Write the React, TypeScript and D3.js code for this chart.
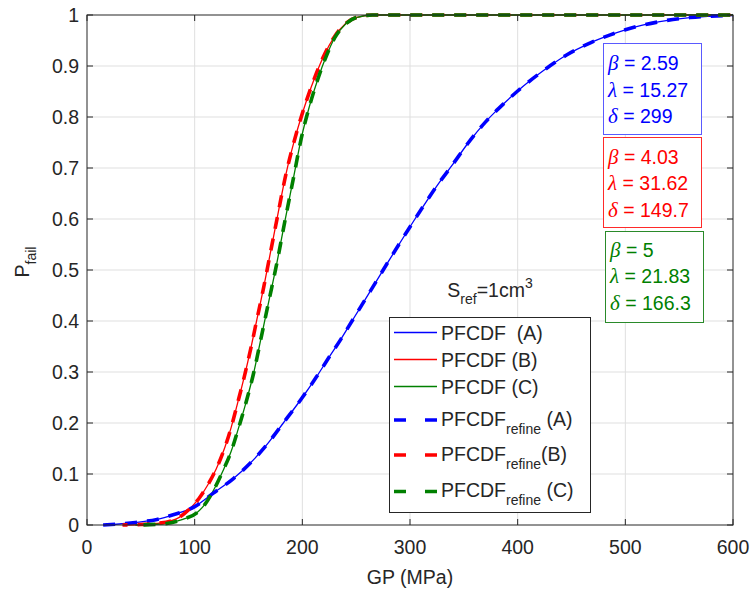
import React, { useEffect, useRef } from 'react';
import * as d3 from 'd3';

// GP (MPa) vs probability of failure
const xA = [15, 30, 45, 65, 80, 100, 117, 136, 151, 168, 182, 200, 213, 223, 236, 247, 263, 280, 298, 312, 326, 339, 354, 370, 387, 400, 424, 445, 467, 486, 500, 532, 560, 600];
const yA = [0, 0.002, 0.005, 0.011, 0.02, 0.036, 0.062, 0.091, 0.12, 0.16, 0.199, 0.25, 0.29, 0.323, 0.365, 0.403, 0.458, 0.517, 0.578, 0.624, 0.668, 0.705, 0.749, 0.79, 0.826, 0.851, 0.891, 0.921, 0.945, 0.961, 0.971, 0.987, 0.995, 0.999];

const xB = [33, 50, 65, 83, 96, 104, 112, 120, 128, 134, 140, 146, 152, 158, 164, 170, 176, 185, 193, 204, 212, 220, 230, 240, 250, 265, 300, 400, 500, 600];
const yB = [0, 0.001, 0.003, 0.012, 0.033, 0.052, 0.078, 0.11, 0.152, 0.192, 0.24, 0.29, 0.345, 0.405, 0.465, 0.53, 0.595, 0.69, 0.757, 0.833, 0.88, 0.92, 0.958, 0.983, 0.995, 1, 1, 1, 1, 1];

const xC = [45, 70, 89, 102, 110, 118, 126, 134, 140, 147, 155, 162, 169, 176, 184, 192, 199, 207, 215, 222, 230, 240, 250, 265, 300, 400, 500, 600];
const yC = [0, 0.002, 0.011, 0.024, 0.042, 0.07, 0.105, 0.145, 0.185, 0.235, 0.3, 0.37, 0.44, 0.51, 0.598, 0.683, 0.758, 0.824, 0.878, 0.918, 0.955, 0.982, 0.995, 1, 1, 1, 1, 1];

const xTicks = [0, 100, 200, 300, 400, 500, 600];
const yTicks = [0, 0.1, 0.2, 0.3, 0.4, 0.5, 0.6, 0.7, 0.8, 0.9, 1];

const seriesColors = ['#0000ff', '#ff0000', '#008000'];
const betaVals = ['2.59', '4.03', '5'];
const lambdaVals = ['15.27', '31.62', '21.83'];
const deltaVals = ['299', '149.7', '166.3'];

const W = 751;
const H = 590;
const FONT = '"Liberation Sans", Arial, sans-serif';
const SERIF = '"Liberation Serif", "Times New Roman", serif';

const App = () => {
  const svgRef = useRef<SVGSVGElement>(null);

  useEffect(() => {
    const margin = { top: 15, right: 18, bottom: 65, left: 87 };
    const width = W - margin.left - margin.right;
    const height = H - margin.top - margin.bottom;

    const root = d3.select(svgRef.current);
    root.selectAll('*').remove();
    root.attr('width', W).attr('height', H);
    root.append('rect').attr('width', W).attr('height', H).attr('fill', '#fff');

    const svg = root.append('g').attr('transform', `translate(${margin.left},${margin.top})`);

    const x = d3.scaleLinear().domain([0, 600]).range([0, width]);
    const y = d3.scaleLinear().domain([0, 1]).range([height, 0]);

    // grid
    svg.append('g').selectAll('line')
      .data(xTicks.slice(1, -1))
      .enter().append('line')
      .attr('x1', d => x(d)).attr('x2', d => x(d))
      .attr('y1', 0).attr('y2', height)
      .attr('stroke', '#dfdfdf').attr('stroke-width', 1);
    svg.append('g').selectAll('line')
      .data(yTicks.slice(1, -1))
      .enter().append('line')
      .attr('x1', 0).attr('x2', width)
      .attr('y1', d => y(d)).attr('y2', d => y(d))
      .attr('stroke', '#dfdfdf').attr('stroke-width', 1);

    // curves
    const series = [
      { xs: xA, ys: yA },
      { xs: xB, ys: yB },
      { xs: xC, ys: yC },
    ];
    const line = d3.line<[number, number]>()
      .x(d => x(d[0]))
      .y(d => y(d[1]))
      .curve(d3.curveMonotoneX);

    series.forEach((s, i) => {
      svg.append('path')
        .datum(s.xs.map((v, k) => [v, s.ys[k]] as [number, number]))
        .attr('d', line)
        .attr('fill', 'none')
        .attr('stroke', seriesColors[i])
        .attr('stroke-width', 1.3);
    });
    // refined curves coincide with the PFCDF curves
    series.forEach((s, i) => {
      svg.append('path')
        .datum(s.xs.map((v, k) => [v, s.ys[k]] as [number, number]))
        .attr('d', line)
        .attr('fill', 'none')
        .attr('stroke', seriesColors[i])
        .attr('stroke-width', 3.6)
        .attr('stroke-dasharray', '12 10')
        .attr('stroke-dashoffset', i * 7);
    });

    // axes box + ticks
    const axisColor = '#262626';
    svg.append('rect')
      .attr('width', width).attr('height', height)
      .attr('fill', 'none').attr('stroke', axisColor).attr('stroke-width', 1);
    const tl = 6;
    xTicks.forEach(t => {
      svg.append('line').attr('x1', x(t)).attr('x2', x(t)).attr('y1', height).attr('y2', height - tl).attr('stroke', axisColor);
      svg.append('line').attr('x1', x(t)).attr('x2', x(t)).attr('y1', 0).attr('y2', tl).attr('stroke', axisColor);
      svg.append('text')
        .attr('x', x(t)).attr('y', height + 29)
        .attr('text-anchor', 'middle')
        .attr('font-family', FONT).attr('font-size', 19.5)
        .attr('fill', axisColor)
        .text(t);
    });
    yTicks.forEach(t => {
      svg.append('line').attr('x1', 0).attr('x2', tl).attr('y1', y(t)).attr('y2', y(t)).attr('stroke', axisColor);
      svg.append('line').attr('x1', width).attr('x2', width - tl).attr('y1', y(t)).attr('y2', y(t)).attr('stroke', axisColor);
      svg.append('text')
        .attr('x', -8).attr('y', y(t) + 7)
        .attr('text-anchor', 'end')
        .attr('font-family', FONT).attr('font-size', 19.5)
        .attr('fill', axisColor)
        .text(String(t));
    });

    // axis labels
    root.append('text')
      .attr('x', margin.left + width / 2).attr('y', 584)
      .attr('text-anchor', 'middle')
      .attr('font-family', FONT).attr('font-size', 19.5)
      .attr('fill', axisColor)
      .text('GP (MPa)');
    const yl = root.append('text')
      .attr('transform', 'translate(29,262) rotate(-90)')
      .attr('text-anchor', 'middle')
      .attr('font-family', FONT).attr('font-size', 19.5)
      .attr('fill', axisColor);
    yl.append('tspan').text('P');
    yl.append('tspan').attr('dy', 7).attr('font-size', 14).text('fail');

    // S_ref annotation
    const sref = root.append('text')
      .attr('x', 490).attr('y', 297)
      .attr('text-anchor', 'middle')
      .attr('font-family', FONT).attr('font-size', 19.5)
      .attr('fill', axisColor);
    sref.append('tspan').text('S');
    sref.append('tspan').attr('dy', 7).attr('font-size', 14).text('ref');
    sref.append('tspan').attr('dy', -7).text('=1cm');
    sref.append('tspan').attr('dy', -9).attr('font-size', 14).text('3');

    // parameter boxes
    const boxes = [
      { x0: 603, y0: 43, x1: 701, y1: 134, tx: 608, by: 70, stroke: '#5a5aff' },
      { x0: 603, y0: 137, x1: 701, y1: 227, tx: 608, by: 163.5, stroke: '#ff2a2a' },
      { x0: 605, y0: 231, x1: 703, y1: 322, tx: 610, by: 256.5, stroke: '#2a8a2a' },
    ];
    boxes.forEach((b, i) => {
      root.append('rect')
        .attr('x', b.x0 + 0.5).attr('y', b.y0 + 0.5)
        .attr('width', b.x1 - b.x0).attr('height', b.y1 - b.y0)
        .attr('fill', '#fff').attr('stroke', b.stroke).attr('stroke-width', 1);
      const rows = [['\u03b2', betaVals[i]], ['\u03bb', lambdaVals[i]], ['\u03b4', deltaVals[i]]];
      rows.forEach((r, k) => {
        const t = root.append('text')
          .attr('x', b.tx).attr('y', b.by + k * 26.6)
          .attr('font-family', FONT).attr('font-size', 19.5)
          .attr('fill', seriesColors[i]);
        t.append('tspan').attr('font-family', SERIF).attr('font-style', 'italic').attr('font-size', 21).text(r[0]);
        t.append('tspan').text(` = ${r[1]}`);
      });
    });

    // legend
    const lg = root.append('g');
    lg.append('rect')
      .attr('x', 389.5).attr('y', 317.5)
      .attr('width', 201).attr('height', 195)
      .attr('fill', '#fff').attr('stroke', axisColor).attr('stroke-width', 1);
    const legendRows = [
      { ly: 332.5, ty: 340, label: 'PFCDF ', sub: '', tail: ' (A)', dashed: false, c: 0 },
      { ly: 359.5, ty: 367, label: 'PFCDF', sub: '', tail: ' (B)', dashed: false, c: 1 },
      { ly: 386.5, ty: 394, label: 'PFCDF', sub: '', tail: ' (C)', dashed: false, c: 2 },
      { ly: 420, ty: 426, label: 'PFCDF', sub: 'refine', tail: ' (A)', dashed: true, c: 0 },
      { ly: 455, ty: 461, label: 'PFCDF', sub: 'refine', tail: '(B)', dashed: true, c: 1 },
      { ly: 491.5, ty: 497, label: 'PFCDF', sub: 'refine', tail: ' (C)', dashed: true, c: 2 },
    ];
    legendRows.forEach(r => {
      lg.append('line')
        .attr('x1', 394).attr('x2', 437)
        .attr('y1', r.ly).attr('y2', r.ly)
        .attr('stroke', seriesColors[r.c])
        .attr('stroke-width', r.dashed ? 3.6 : 1.3)
        .attr('stroke-dasharray', r.dashed ? '12 19' : null);
      const t = lg.append('text')
        .attr('x', 441).attr('y', r.ty)
        .attr('font-family', FONT).attr('font-size', 19.5)
        .attr('fill', axisColor)
        .attr('xml:space', 'preserve')
        .style('white-space', 'pre');
      t.append('tspan').text(r.label);
      if (r.sub) {
        t.append('tspan').attr('dy', 8).attr('font-size', 14).text(r.sub);
        t.append('tspan').attr('dy', -8).text(r.tail);
      } else {
        t.append('tspan').text(r.tail);
      }
    });
  }, []);

  return (
    <svg ref={svgRef} style={{ position: 'absolute', left: 0, top: 0 }}></svg>
  );
};

export default App;
